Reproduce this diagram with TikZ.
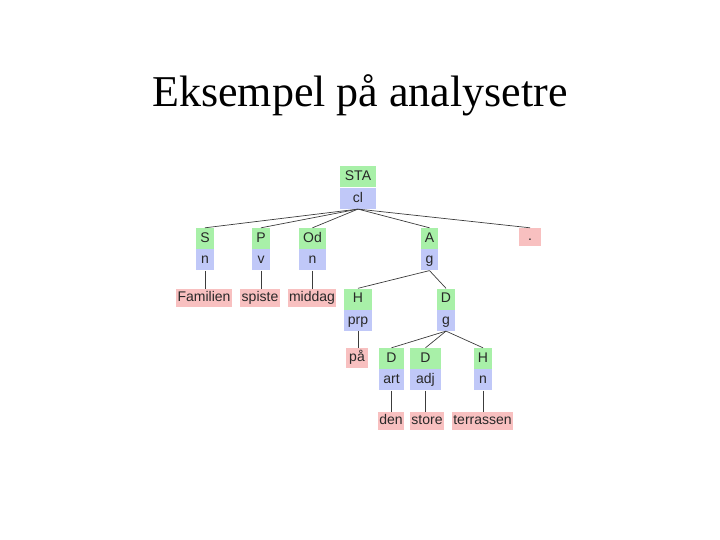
\documentclass[tikz,border=0pt]{standalone}
\usepackage{fontspec}
\setmainfont{Liberation Serif}
\newfontfamily\treefont{Liberation Sans}
\definecolor{fngreen}{RGB}{168,240,168}
\definecolor{formblue}{RGB}{192,200,248}
\definecolor{leafpink}{RGB}{248,192,192}
\definecolor{txtgray}{RGB}{40,40,40}
\definecolor{edgegray}{RGB}{60,60,60}
\usetikzlibrary{positioning}

\tikzset{
  fn/.style={fill=fngreen, minimum height=21pt, inner xsep=2pt, inner ysep=0pt,
    text height=10.5pt, text depth=3pt, font=\treefont\fontsize{14}{16}\selectfont, text=txtgray},
  form/.style={fill=formblue, minimum height=21pt, inner xsep=2pt, inner ysep=0pt,
    text height=10.5pt, text depth=3pt, font=\treefont\fontsize{14}{16}\selectfont, text=txtgray},
  leaf/.style={fill=leafpink, minimum height=18pt, inner xsep=1.5pt, inner ysep=0pt,
    text height=10.5pt, text depth=3pt, font=\treefont\fontsize{14}{16}\selectfont, text=txtgray},
  edge/.style={draw=edgegray, line width=0.7pt}
}

\begin{document}
\begin{tikzpicture}[x=1pt, y=-1pt]
    \useasboundingbox (0,0) rectangle (720,540);

    % Title
    \node[font=\fontsize{44}{52}\selectfont] (title) at (360,95) {Eksempel på analysetre};

    % Root: STA / cl
    \node[fn, minimum width=36pt] (sta) at (358,177) {STA};
    \node[form, minimum width=36pt, below=0pt of sta] (staf) {cl};

    % Level 1
    \node[fn, minimum width=18pt] (s) at (205,238.5) {S};
    \node[form, minimum width=18pt, below=0pt of s] (sf) {n};
    \node[fn, minimum width=18pt] (p) at (261,238.5) {P};
    \node[form, minimum width=18pt, below=0pt of p] (pf) {v};
    \node[fn, minimum width=27pt] (od) at (312.5,238.5) {Od};
    \node[form, minimum width=27pt, below=0pt of od] (odf) {n};
    \node[fn, minimum width=17pt] (a) at (429.5,238.5) {A};
    \node[form, minimum width=17pt, below=0pt of a] (af) {g};
    \node[leaf, minimum width=22pt] (dot) at (530,237) {.};

    % Words of level 1
    \node[leaf] (familien) at (204,298) {Familien};
    \node[leaf] (spiste) at (260,298) {spiste};
    \node[leaf] (middag) at (312,298) {middag};

    % Level 2 (under A)
    \node[fn, minimum width=28pt] (hprp) at (358,299) {H};
    \node[form, minimum width=28pt, below=0pt of hprp] (hprpf) {prp};
    \node[fn, minimum width=18pt] (dg) at (446,299) {D};
    \node[form, minimum width=18pt, below=0pt of dg] (dgf) {g};
    \node[leaf, minimum width=22pt, minimum height=20pt] (paa) at (357,358) {på};

    % Level 3 (under D g)
    \node[fn, minimum width=25pt] (dart) at (391.5,358.5) {D};
    \node[form, minimum width=25pt, below=0pt of dart] (dartf) {art};
    \node[fn, minimum width=31pt] (dadj) at (425.5,358.5) {D};
    \node[form, minimum width=31pt, below=0pt of dadj] (dadjf) {adj};
    \node[fn, minimum width=18pt] (hn) at (483,358.5) {H};
    \node[form, minimum width=18pt, below=0pt of hn] (hnf) {n};

    % Words of level 3
    \node[leaf] (den) at (391,421) {den};
    \node[leaf] (store) at (427,421) {store};
    \node[leaf] (terrassen) at (482.5,421) {terrassen};

    % Edges
    \foreach \c in {s,p,od,a,dot}{
      \draw[edge] (staf.south) -- (\c.north);
    }
    \draw[edge] (sf.south) -- (familien.north -| sf.south);
    \draw[edge] (pf.south) -- (spiste.north -| pf.south);
    \draw[edge] (odf.south) -- (middag.north -| odf.south);
    \draw[edge] (af.south) -- (hprp.north);
    \draw[edge] (af.south) -- (dg.north);
    \draw[edge] (hprpf.south) -- (paa.north -| hprpf.south);
    \foreach \c in {dart,dadj,hn}{
      \draw[edge] (dgf.south) -- (\c.north);
    }
    \draw[edge] (dartf.south) -- (den.north -| dartf.south);
    \draw[edge] (dadjf.south) -- (store.north -| dadjf.south);
    \draw[edge] (hnf.south) -- (terrassen.north -| hnf.south);
\end{tikzpicture}
\end{document}
